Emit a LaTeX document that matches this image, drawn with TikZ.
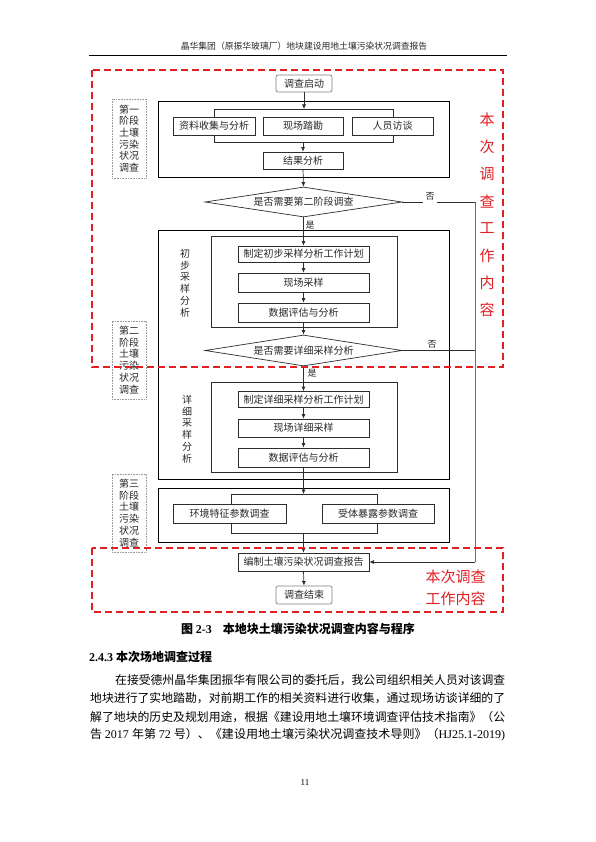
\documentclass[tikz,border=0pt]{standalone}
\usepackage{fontspec}
\usepackage{graphicx}
\setmainfont{Liberation Serif}
\newfontfamily\cjk{Noto Sans CJK SC}
\usetikzlibrary{shapes.geometric,arrows.meta}
\definecolor{redline}{RGB}{225,32,36}
\definecolor{boxline}{RGB}{45,45,45}
\definecolor{textc}{RGB}{40,40,40}
\definecolor{sideline}{RGB}{110,110,110}
\tikzset{
  fbox/.style={draw=boxline,line width=0.7pt,fill=white,inner sep=0pt,text=textc},
  rbox/.style={fbox,draw=gray,rounded corners=2pt},
  phase/.style={draw=black,line width=0.7pt,inner sep=0pt},
  lab/.style={draw=gray!80,densely dotted,line width=0.6pt,inner sep=0pt,align=center,text=textc,font=\cjk\fontsize{10}{11.7}\selectfont},
  sublab/.style={inner sep=0pt,align=center,text=textc,font=\cjk\fontsize{10}{11.8}\selectfont},
  dia/.style={diamond,aspect=6.5,draw=boxline,line width=0.7pt,fill=white,inner sep=0pt,text=textc},
  arr/.style={-{Latex[length=4.5pt,width=4pt]},line width=0.7pt,draw=boxline},
  ln/.style={line width=0.7pt,draw=boxline},
  sln/.style={line width=0.7pt,draw=sideline},
  reddash/.style={draw=redline,line width=1.3pt,dash pattern=on 7pt off 4pt},
  redtxt/.style={text=redline,inner sep=0pt,font=\cjk\fontsize{15}{15}\selectfont},
  yn/.style={text=textc,inner sep=1pt,font=\cjk\fontsize{9}{9}\selectfont},
  para/.style={anchor=west,inner sep=0pt,text=black}
}
\begin{document}
\begin{tikzpicture}[x=1pt,y=-1pt,font=\cjk\fontsize{10}{12}\selectfont]
\useasboundingbox[fill=white] (0,0) rectangle (595,842);

% header
\node[text=textc,font=\cjk\fontsize{8.8}{9}\selectfont] (hdr) at (304,46) {晶华集团（原振华玻璃厂）地块建设用地土壤污染状况调查报告};
\draw[line width=1.5pt] (89,55.5) -- (507,55.5);

% phase outer boxes
\node[phase,minimum width=291pt,minimum height=76pt] (p1) at (303.5,139) {};
\node[phase,minimum width=291pt,minimum height=249pt] (p2) at (303.5,354.5) {};
\node[phase,minimum width=291pt,minimum height=54pt] (p3) at (303.5,515) {};

% phase labels
\node[lab,minimum width=34pt,minimum height=79pt] (l1) at (129,138.5) {第一\\阶段\\土壤\\污染\\状况\\调查};
\node[lab,minimum width=34pt,minimum height=78pt] (l2) at (129,360) {第二\\阶段\\土壤\\污染\\状况\\调查};
\node[lab,minimum width=34pt,minimum height=78pt] (l3) at (129,513) {第三\\阶段\\土壤\\污染\\状况\\调查};

% inner boxes of phase 2
\node[phase,draw=boxline,minimum width=186pt,minimum height=91pt] (in1) at (304,281.5) {};
\node[phase,draw=boxline,minimum width=186pt,minimum height=90pt] (in2) at (304,427) {};
\node[sublab] (s1) at (185,283) {初\\步\\采\\样\\分\\析};
\node[sublab] (s2) at (187,429) {详\\细\\采\\样\\分\\析};

% brackets
\coordinate (br1a) at (214,109);
\coordinate (br1b) at (393,142);
\draw[ln] (br1a) rectangle (br1b);
\coordinate (br3a) at (231,494);
\coordinate (br3b) at (377,533);
\draw[ln] (br3a) rectangle (br3b);

% boxes
\node[rbox,minimum width=56pt,minimum height=17pt] (start) at (304,83.5) {调查启动};
\node[fbox,minimum width=82pt,minimum height=18pt] (b11) at (214,126) {资料收集与分析};
\node[fbox,minimum width=80pt,minimum height=18pt] (b12) at (303,126) {现场踏勘};
\node[fbox,minimum width=81pt,minimum height=18pt] (b13) at (392.5,126) {人员访谈};
\node[fbox,minimum width=80pt,minimum height=17pt] (b14) at (303,160.5) {结果分析};
\node[dia,minimum width=197pt,minimum height=30pt] (d1) at (303.5,202) {是否需要第二阶段调查};
\node[fbox,minimum width=131pt,minimum height=16pt] (b21) at (303.5,254) {制定初步采样分析工作计划};
\node[fbox,minimum width=131pt,minimum height=19pt] (b22) at (303.5,282.5) {现场采样};
\node[fbox,minimum width=131pt,minimum height=19pt] (b23) at (303.5,312.5) {数据评估与分析};
\node[dia,minimum width=197pt,minimum height=31pt] (d2) at (303.5,350.5) {是否需要详细采样分析};
\node[fbox,minimum width=131pt,minimum height=16pt] (b31) at (303.5,399.5) {制定详细采样分析工作计划};
\node[fbox,minimum width=131pt,minimum height=18pt] (b32) at (303.5,428) {现场详细采样};
\node[fbox,minimum width=131pt,minimum height=19pt] (b33) at (303.5,457.5) {数据评估与分析};
\node[fbox,minimum width=113pt,minimum height=19pt] (b41) at (229.5,513.5) {环境特征参数调查};
\node[fbox,minimum width=112pt,minimum height=19pt] (b42) at (378,513.5) {受体暴露参数调查};
\node[fbox,minimum width=131pt,minimum height=18pt] (rep) at (303.5,562) {编制土壤污染状况调查报告};
\node[rbox,minimum width=56pt,minimum height=18pt] (fin) at (304,595) {调查结束};

% arrows
\draw[arr] (start.south) -- (start.south |- br1a);
\draw[arr] (b14.north |- br1b) -- (b14.north);
\draw[arr] (b14.south) -- (d1.north);
\draw[arr] (d1.south) -- (b21.north);
\draw[arr] (b21.south) -- (b22.north);
\draw[arr] (b22.south) -- (b23.north);
\draw[arr] (b23.south) -- (d2.north);
\draw[arr] (d2.south) -- (b31.north);
\draw[arr] (b31.south) -- (b32.north);
\draw[arr] (b32.south) -- (b33.north);
\draw[arr] (b33.south) -- (b33.south |- br3a);
\draw[arr] (rep.north |- br3b) -- (rep.north);
\draw[arr] (rep.south) -- (fin.north);

% no-branches
\coordinate (c1) at (475,202);
\coordinate (c2) at (475,562);
\draw[ln] (d1.east) -- (c1);
\draw[sln] (c1) -- (c2);
\draw[arr] (c2) -- (rep.east);
\draw[ln] (d2.east) -- (d2.east -| c1);
\node[yn,fill=white,minimum width=14pt,minimum height=15pt] (no1) at (430,196) {否};
\node[yn] (no2) at (432,344) {否};
\node[yn] (yes1) at (310,225) {是};
\node[yn] (yes2) at (312,373) {是};

% red dashed regions
\draw[reddash] (92,70) rectangle (503,367);
\draw[reddash] (92,548) rectangle (503,612);
\foreach \c [count=\i from 0] in {本,次,调,查,工,作,内,容}
  \node[redtxt] (rv\i) at (487,120+27.1*\i) {\c};
\node[redtxt] (rt1) at (455.5,577) {本次调查};
\node[redtxt] (rt2) at (455.5,598.5) {工作内容};

% caption and text
\node[inner sep=0pt,font=\fontsize{12}{12}\selectfont] (cap) at (298,629) {\cjk\bfseries 图 \rmfamily\bfseries 2-3\hspace{11pt}\cjk\bfseries 本地块土壤污染状况调查内容与程序};
\node[para,font=\fontsize{12}{12}\selectfont] (sec) at (89,657) {\rmfamily\bfseries 2.4.3 \cjk\bfseries 本次场地调查过程};
\node[para] (t1) at (115,680) {\resizebox{390pt}{\height}{\cjk\fontsize{11.8}{14}\selectfont 在接受德州晶华集团振华有限公司的委托后，我公司组织相关人员对该调查}};
\node[para] (t2) at (90,698.5) {\resizebox{415pt}{\height}{\cjk\fontsize{11.8}{14}\selectfont 地块进行了实地踏勘，对前期工作的相关资料进行收集，通过现场访谈详细的了}};
\node[para] (t3) at (90,717) {\resizebox{415pt}{\height}{\cjk\fontsize{11.8}{14}\selectfont 解了地块的历史及规划用途，根据《建设用地土壤环境调查评估技术指南》（公}};
\node[para] (t4) at (90,735) {\resizebox{415pt}{\height}{\fontsize{11.8}{14}\selectfont\cjk 告 \rmfamily 2017 \cjk 年第 \rmfamily 72 \cjk 号）、《建设用地土壤污染状况调查技术导则》（\rmfamily HJ25.1-2019)}};
\node[inner sep=0pt,font=\rmfamily\fontsize{9}{9}\selectfont] (pg) at (305,783) {11};
\end{tikzpicture}
\end{document}
